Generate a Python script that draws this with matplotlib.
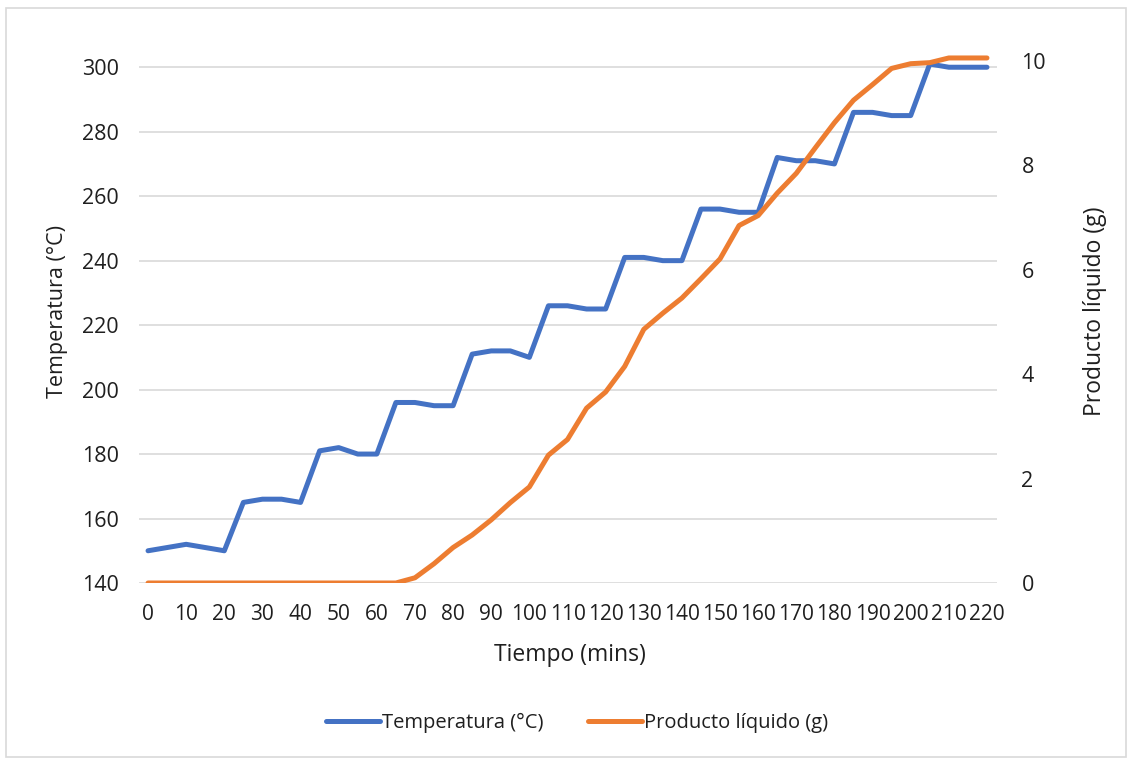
import matplotlib
matplotlib.use("Agg")
import matplotlib.pyplot as plt
from matplotlib.patches import Rectangle

# time in minutes, readings every 5 min
tiempo = list(range(0, 225, 5))
temperatura = [150, 151, 152, 151, 150, 165, 166, 166, 165, 181, 182, 180,
               180, 196, 196, 195, 195, 211, 212, 212, 210, 226, 226, 225,
               225, 241, 241, 240, 240, 256, 256, 255, 255, 272, 271, 271,
               270, 286, 286, 285, 285, 301, 300, 300, 300]
producto = [0, 0, 0, 0, 0, 0, 0, 0, 0, 0, 0, 0, 0, 0, 0.1, 0.37, 0.68,
            0.92, 1.21, 1.54, 1.84, 2.45, 2.75, 3.35, 3.66, 4.15, 4.86, 5.17,
            5.46, 5.83, 6.21, 6.85, 7.04, 7.47, 7.85, 8.34, 8.82, 9.25, 9.55,
            9.86, 9.95, 9.97, 10.06, 10.06, 10.06]

x_ticks = list(range(0, 230, 10))
temp_ticks = list(range(140, 320, 20))
prod_ticks = list(range(0, 12, 2))

BLUE = "#4472C4"
ORANGE = "#ED7D31"
GRID = "#D9D9D9"
TXT = "#1F1F1F"
FONT = ["Open Sans", "DejaVu Sans"]

fig = plt.figure(figsize=(11.3, 7.6), dpi=100)
fig.patches.append(Rectangle((6 / 1130, 3 / 760), 1120 / 1130, 749 / 760,
                             transform=fig.transFigure, fill=False,
                             edgecolor=GRID, linewidth=1.2))

ax = fig.add_axes([138.5 / 1130, 1 - 583 / 760, 858 / 1130, 548 / 760])
ax2 = ax.twinx()

l1, = ax.plot(tiempo, temperatura, color=BLUE, lw=3.6,
              solid_capstyle="round", solid_joinstyle="round", zorder=3)
l2, = ax2.plot(tiempo, producto, color=ORANGE, lw=3.6,
               solid_capstyle="round", solid_joinstyle="round", zorder=3)

ax.set_xlim(-2.5, 222.5)
ax.set_ylim(140, 310)
ax2.set_ylim(0, 10.5)
ax.set_xticks(x_ticks)
ax.set_yticks(temp_ticks)
ax2.set_yticks(prod_ticks)

ax.grid(axis="y", color=GRID, lw=1.2)
ax.set_axisbelow(True)
for a in (ax, ax2):
    for s in a.spines.values():
        s.set_visible(False)

ax.tick_params(axis="x", length=0, pad=15, labelsize=15, labelcolor=TXT)
ax.tick_params(axis="y", length=0, pad=14, labelsize=15.5, labelcolor=TXT)
ax2.tick_params(axis="y", length=0, pad=18, labelsize=15.5, labelcolor=TXT)
for lab in ax.get_xticklabels() + ax.get_yticklabels() + ax2.get_yticklabels():
    lab.set_family(FONT)

fig.text(58 / 1130, 1 - 312 / 760, "Temperatura (°C)", rotation=90,
         ha="center", va="center", fontsize=15.5, color=TXT, family=FONT)
fig.text(1095 / 1130, 1 - 311 / 760, "Producto líquido (g)", rotation=90,
         ha="center", va="center", fontsize=16.5, color=TXT, family=FONT)
fig.text(570 / 1130, 1 - 655 / 760, "Tiempo (mins)",
         ha="center", va="center", fontsize=16.5, color=TXT, family=FONT)

leg = fig.legend([l1, l2], ["Temperatura (°C)", "Producto líquido (g)"],
                 loc="center", bbox_to_anchor=(577 / 1130, 1 - 723 / 760),
                 ncol=2, frameon=False, handlelength=2.7, handletextpad=0.1,
                 columnspacing=2.2, prop={"family": FONT, "size": 14.5})
for t in leg.get_texts():
    t.set_color(TXT)

fig.savefig("out.png", dpi=100)
